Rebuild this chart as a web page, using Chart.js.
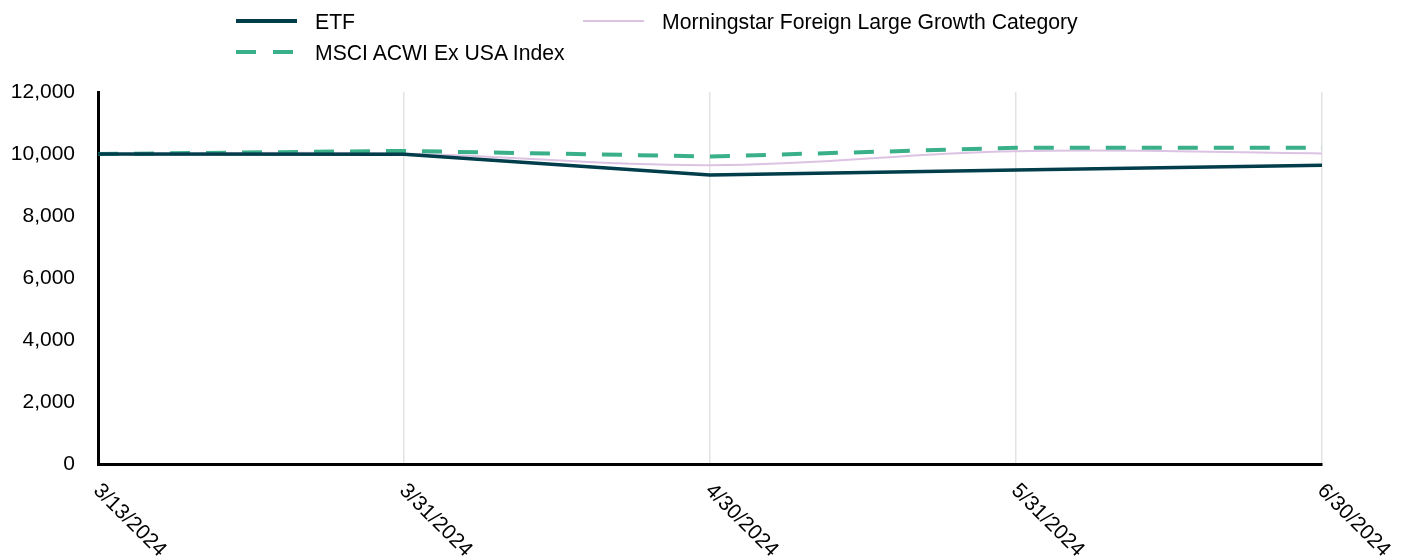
<!DOCTYPE html>
<html>
<head>
<meta charset="utf-8">
<script src="https://cdn.jsdelivr.net/npm/chart.js@4.4.1/dist/chart.umd.min.js"></script>
<style>
  html, body { margin: 0; padding: 0; background: #fff; }
  #wrap { position: relative; width: 1407px; height: 556px; font-family: "Liberation Sans", Arial, sans-serif; }
  #chart { position: absolute; left: 0; top: 0; }
  .leg { position: absolute; font-size: 21.2px; color: #000; line-height: 24px; white-space: nowrap; }
  .sw { position: absolute; }
</style>
</head>
<body>
<div id="wrap">
  <canvas id="chart" width="1407" height="556"></canvas>
  <div id="legend"></div>
</div>
<script>
const categories = ["3/13/2024", "3/31/2024", "4/30/2024", "5/31/2024", "6/30/2024"];
const etfValues = [10000, 9990, 9320, 9480, 9640];
const msciValues = [10000, 10100, 9920, 10200, 10200];
const morningstarValues = [10000, 10010, 9640, 10090, 10020];
const yTicks = [0, 2000, 4000, 6000, 8000, 10000, 12000];
const seriesNames = ["ETF", "MSCI ACWI Ex USA Index", "Morningstar Foreign Large Growth Category"];

const FONT = "Liberation Sans, Arial, sans-serif";

// HTML legend (two columns, like the reference)
const legendItems = [
  { name: seriesNames[0], left: 236, top: 21, color: "#013D4A", width: 4, dash: null },
  { name: seriesNames[1], left: 236, top: 52, color: "#3AB08A", width: 4, dash: [20, 17] },
  { name: seriesNames[2], left: 583, top: 21, color: "#DCC3E3", width: 2, dash: null }
];
const legendEl = document.getElementById("legend");
legendItems.forEach(it => {
  const c = document.createElement("canvas");
  c.width = 62; c.height = 8;
  c.className = "sw";
  c.style.left = it.left + "px";
  c.style.top = (it.top - 4) + "px";
  const g = c.getContext("2d");
  g.strokeStyle = it.color; g.lineWidth = it.width;
  if (it.dash) g.setLineDash(it.dash);
  g.beginPath(); g.moveTo(0, 4); g.lineTo(61, 4); g.stroke();
  legendEl.appendChild(c);
  const t = document.createElement("div");
  t.className = "leg";
  t.textContent = it.name;
  t.style.left = (it.left + 79) + "px";
  t.style.top = (it.top - 11) + "px";
  legendEl.appendChild(t);
});

// rotated x labels starting at the tick, going down-right
const rotatedLabels = {
  id: "rotatedLabels",
  afterDraw(chart) {
    const xs = chart.scales.x;
    const ctx = chart.ctx;
    ctx.save();
    ctx.font = "21px " + FONT;
    ctx.fillStyle = "#000";
    ctx.textAlign = "left";
    ctx.textBaseline = "top";
    categories.forEach((lab, i) => {
      const px = xs.getPixelForValue(i);
      ctx.save();
      ctx.translate(px + 6, xs.top + 16);
      ctx.rotate(Math.PI / 4);
      ctx.fillText(lab, 0, 0);
      ctx.restore();
    });
    ctx.restore();
  }
};

new Chart(document.getElementById("chart"), {
  type: "line",
  data: {
    labels: categories,
    datasets: [
      { label: seriesNames[0], data: etfValues, borderColor: "#013D4A", borderWidth: 3.5, pointRadius: 0, tension: 0, fill: false },
      { label: seriesNames[1], data: msciValues, borderColor: "#3AB08A", borderWidth: 4, borderDash: [20, 16], pointRadius: 0, tension: 0, fill: false },
      { label: seriesNames[2], data: morningstarValues, borderColor: "#DCC3E3", borderWidth: 2, pointRadius: 0, tension: 0.4, fill: false }
    ]
  },
  options: {
    responsive: false,
    animation: false,
    layout: { padding: { top: 92, left: 0, right: 85, bottom: 92 } },
    plugins: { legend: { display: false }, tooltip: { enabled: false } },
    scales: {
      x: {
        offset: false,
        grid: { display: true, color: "#E3E3E3", lineWidth: 1.5, drawTicks: false },
        border: { display: true, color: "#000", width: 3 },
        ticks: { display: false }
      },
      y: {
        min: 0, max: 12000,
        afterBuildTicks(scale) { scale.ticks = yTicks.map(v => ({ value: v })); },
        afterFit(scale) { scale.width = 98; },
        grid: { display: false, drawTicks: false },
        border: { display: true, color: "#000", width: 3 },
        ticks: {
          padding: 23,
          color: "#000",
          font: { family: FONT, size: 21 },
          callback: v => v.toLocaleString("en-US")
        }
      }
    }
  },
  plugins: [rotatedLabels]
});
</script>
</body>
</html>
